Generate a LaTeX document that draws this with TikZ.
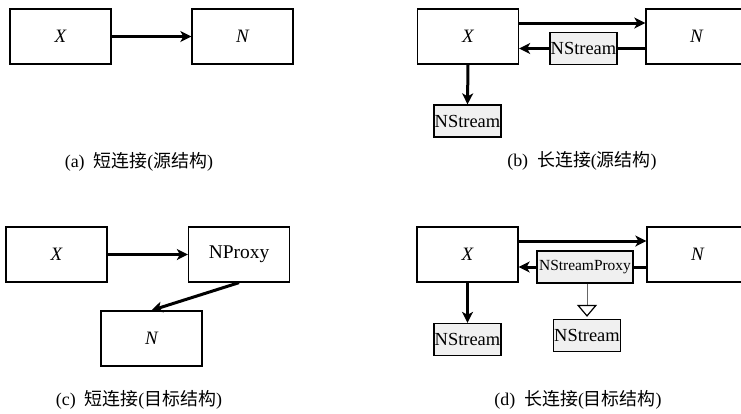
\documentclass[tikz,border=0pt]{standalone}
\usepackage{fontspec}
\setmainfont{Liberation Serif}
\newfontfamily\cjk{Noto Sans CJK SC}
\usetikzlibrary{arrows.meta}
\newcommand{\zh}[1]{{\cjk #1}}
\tikzset{
  box/.style={draw, line width=1.3bp, minimum width=101bp, minimum height=55bp,
    inner sep=0pt, font=\fontsize{19}{21}\selectfont\itshape},
  pbox/.style={box, font=\fontsize{19.5}{21}\selectfont},
  sbox/.style={draw, line width=1.3bp, fill=black!6, minimum width=67bp,
    minimum height=32bp, inner sep=0pt, font=\fontsize{18.5}{20}\selectfont},
  spbox/.style={sbox, minimum width=96bp, font=\fontsize{15.5}{17}\selectfont},
  arr/.style={line width=3bp, -{Stealth[length=11bp,width=11bp,inset=3bp]}},
  bar/.style={line width=3bp},
  gen/.style={line width=1bp, draw=black!60,
    -{Triangle[open,length=12bp,width=20bp,black,line width=1.2bp]}},
  caption/.style={font=\fontsize{18}{20}\selectfont, inner sep=0pt}
}
\begin{document}
\begin{tikzpicture}[x=1bp,y=-1bp]
  \useasboundingbox (0,0) rectangle (741,413);
  \clip (0,0) rectangle (741,413);

  % (a) short connection, source structure
  \node[box] (Xa) at (60.5,36.5) {X};
  \node[box] (Na) at (242.5,36.5) {N};
  \draw[arr] (Xa) -- (Na);
  \node[caption] (capa) at (139,162) {(a)\ \ \zh{短连接}(\zh{源结构})};

  % (b) long connection, source structure
  \node[box] (Xb) at (468,36.5) {X};
  \node[box] (Nb) at (696.5,36.5) {N};
  \node[sbox] (Sb) at (583.5,48.5) {NStream};
  \node[sbox] (Sb2) at (467.5,121) {NStream};
  \draw[arr] ([yshift=13.5bp]Xb.east) -- ([yshift=13.5bp]Nb.west);
  \draw[bar] (Nb.west |- Sb.east) -- (Sb.east);
  \draw[arr] (Sb.west) -- (Sb.west -| Xb.east);
  \draw[arr] (Xb.south) -- (Sb2.north);
  \node[caption] (capb) at (582,161) {(b)\ \ \zh{长连接}(\zh{源结构})};

  % (c) short connection, target structure
  \node[box] (Xc) at (56.5,254.5) {X};
  \node[pbox] (Pc) at (239,254.5) {NProxy};
  \node[box] (Nc) at (151.5,338.5) {N};
  \draw[arr] (Xc) -- (Pc);
  \draw[arr] (Pc.south) -- (Nc.north);
  \node[caption] (capc) at (139,400) {(c)\ \ \zh{短连接}(\zh{目标结构})};

  % (d) long connection, target structure
  \node[box] (Xd) at (467.5,254.5) {X};
  \node[box] (Nd) at (697.5,254.5) {N};
  \node[spbox] (Pd) at (585,267) {NStreamProxy};
  \node[sbox] (Sd) at (467.5,339.5) {NStream};
  \node[sbox] (Sd2) at (587,335.5) {NStream};
  \draw[arr] ([yshift=13.5bp]Xd.east) -- ([yshift=13.5bp]Nd.west);
  \draw[bar] (Nd.west |- Pd.east) -- (Pd.east);
  \draw[arr] (Pd.west) -- (Pd.west -| Xd.east);
  \draw[arr] (Xd.south) -- (Sd.north);
  \draw[gen, shorten >=2bp] (Pd.south -| Sd2.north) -- (Sd2.north);
  \node[caption] (capd) at (578,400) {(d)\ \ \zh{长连接}(\zh{目标结构})};
\end{tikzpicture}
\end{document}
